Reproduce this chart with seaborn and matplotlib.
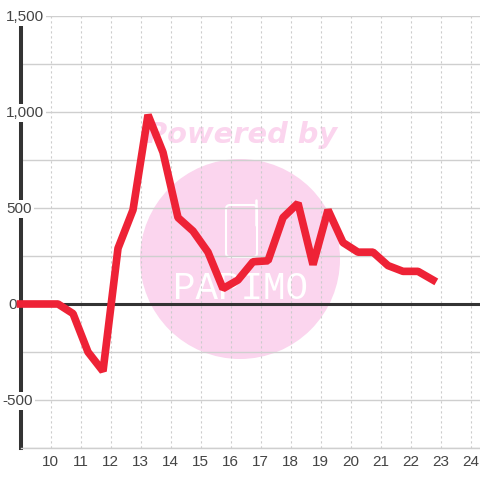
import matplotlib
matplotlib.use("Agg")
import matplotlib.pyplot as plt
import pandas as pd
import seaborn as sns
from matplotlib.patches import Circle, FancyBboxPatch
from matplotlib.transforms import IdentityTransform

hours = [9, 10.25, 10.75, 11.25, 11.75, 12.25, 12.75, 13.25, 13.75, 14.25, 14.75, 15.25, 15.75,
         16.25, 16.75, 17.25, 17.75, 18.25, 18.75, 19.25, 19.75, 20.25, 20.75, 21.25, 21.75, 22.25, 22.75]
values = [0, 0, -50, -250, -350, 290, 490, 985, 790, 450, 380, 270, 80,
          125, 220, 225, 450, 525, 205, 490, 320, 270, 270, 200, 170, 170, 125]
x_ticks = list(range(10, 25))
y_ticks = [-750, -500, -250, 0, 250, 500, 750, 1000, 1250, 1500]
y_labels = {1500: "1,500", 1000: "1,000", 500: "500", 0: "0", -500: "-500"}
y_label_px = {1500: 6, 1000: 6, 500: 6, 0: 8, -500: 2}

PINK = "#fbd5ee"
DARK = "#333333"
TEXT = "#444444"

sns.set_style("white")
plt.rcParams["font.family"] = ["Liberation Sans", "DejaVu Sans"]

fig = plt.figure(figsize=(4.8, 4.8), dpi=100)
ax = fig.add_axes([20.5 / 480, 32 / 480, 459.5 / 480, 432 / 480])
ax.set_xlim(9, 9 + 459.5 / 30)
ax.set_ylim(-750, 1500)

ax.set_xticks(x_ticks)
ax.set_yticks(y_ticks)
ax.set_yticklabels([])
ax.tick_params(length=0, axis="x", labelsize=11, labelcolor=TEXT, pad=5)
ax.tick_params(length=0, axis="y")
ax.grid(True, axis="y", color="#cfcfcf", lw=1.0, zorder=1)
ax.grid(True, axis="x", color="#cccccc", lw=0.8, ls=(0, (2, 2.5)), zorder=1)
ax.set_axisbelow(True)
for side in ["top", "right"]:
    ax.spines[side].set_visible(False)
ax.spines["bottom"].set_color("#cfcfcf")
ax.spines["bottom"].set_linewidth(1.0)
ax.spines["left"].set_color(DARK)
ax.spines["left"].set_linewidth(2.9)
ax.spines["left"].set_zorder(2)

# watermark, sits under the grid
to_fig = IdentityTransform()
fig.add_artist(Circle((240, 480 - 259), 100, transform=to_fig, color=PINK, lw=0, zorder=-3))
fig.add_artist(FancyBboxPatch((226, 480 - 257), 31, 52, boxstyle="round,pad=0,rounding_size=4",
                              transform=to_fig, fc="none", ec="white", lw=1.5, zorder=-2))
fig.add_artist(plt.Line2D([255.5, 255.5], [480 - 225, 480 - 200], transform=to_fig, color="white", lw=1.8, zorder=-2))
fig.text(242 / 480, 1 - 135 / 480, "Powered by", color=PINK, family="DejaVu Sans", weight="bold", style="italic",
         fontsize=20.8, ha="center", va="center", zorder=-2)
fig.text(240 / 480, 1 - 289 / 480, "PAPIMO", color="white", family="Liberation Mono", fontsize=27,
         ha="center", va="center", zorder=-2)
ax.patch.set_alpha(0)
fig.patch.set_facecolor("white")

ax.axhline(0, color=DARK, lw=2.2, zorder=2)

df = pd.DataFrame({"hour": hours, "value": values})
sns.lineplot(data=df, x="hour", y="value", ax=ax, color="#ee2236", lw=5.5, zorder=6, errorbar=None,
             solid_joinstyle="bevel", solid_capstyle="projecting", clip_on=False)
ax.set_xlabel("")
ax.set_ylabel("")

for level, label in y_labels.items():
    ax.annotate(label, xy=(y_label_px[level], level - 5), xycoords=("figure pixels", "data"), ha="left", va="center",
                fontsize=11, color=TEXT, zorder=5, annotation_clip=False,
                bbox=dict(fc="white", ec="none", pad=1.5))

fig.savefig("out.png", dpi=100)
